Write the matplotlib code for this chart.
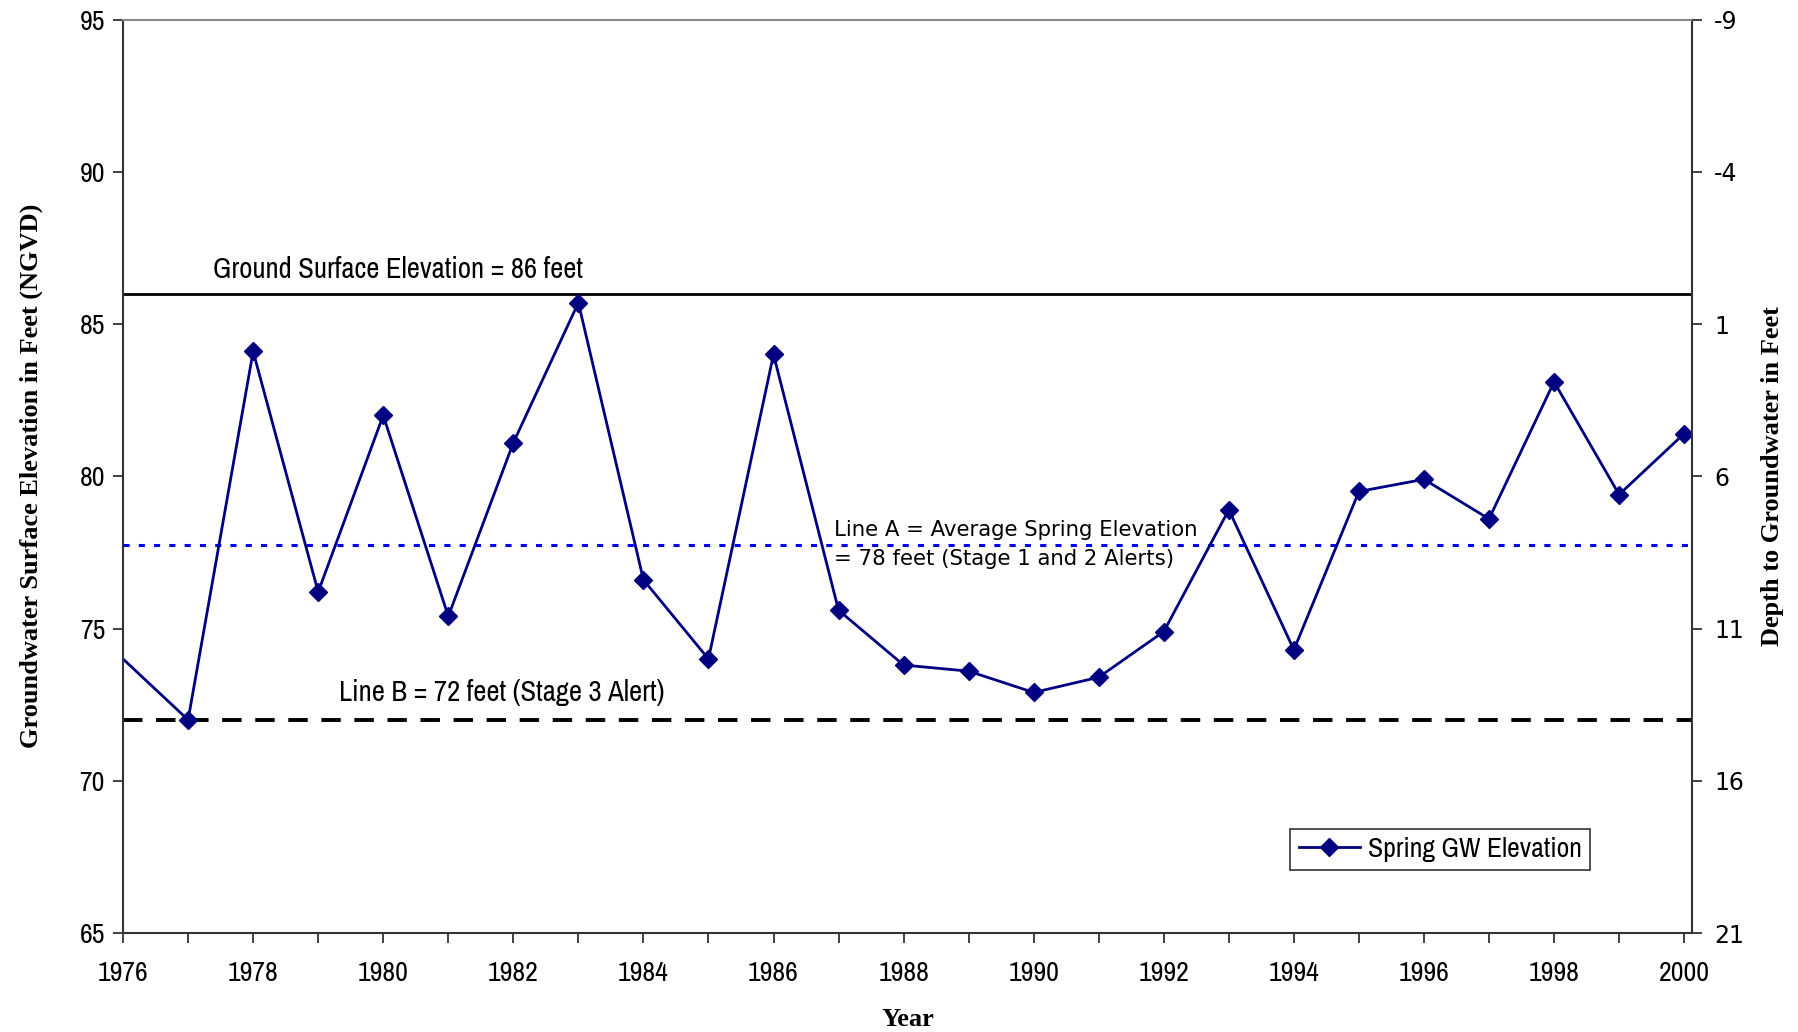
import matplotlib
matplotlib.use("Agg")
import matplotlib.pyplot as plt
from matplotlib.ticker import MultipleLocator
from matplotlib.lines import Line2D

plt.rcParams["axes.unicode_minus"] = False

years = list(range(1976, 2001))
elevation = [74.0, 72.0, 84.1, 76.2, 82.0, 75.4, 81.1, 85.7, 76.6, 74.0, 84.0,
             75.6, 73.8, 73.6, 72.9, 73.4, 74.9, 78.9, 74.3, 79.5, 79.9, 78.6,
             83.1, 79.4, 81.4]
ground_surface = 86
line_a = 77.75
line_b = 72
depth_ticks = [-9, -4, 1, 6, 11, 16, 21]

narrow = ["Archivo Narrow", "DejaVu Sans"]
serif_bold = dict(family=["Liberation Serif", "DejaVu Serif"], weight="bold", size=19)

fig = plt.figure(figsize=(17.99, 10.32), dpi=100)
ax = fig.add_axes([0.0684, 0.0959, 0.8721, 0.8852])

ax.axhline(ground_surface, color="black", lw=2)
ax.axhline(line_a, color="#0000FF", lw=2.2, ls=(0, (2, 3)))
ax.axhline(line_b, color="black", lw=2.8, ls=(0, (5, 3.5)))

# first year has no marker, the line just enters from the axis edge
ax.plot(years, elevation, color="#000080", lw=2, marker="D", ms=9,
        markevery=list(range(1, len(years))))

ax.set_xlim(1976, 2000.12)
ax.set_ylim(65, 95)
ax.xaxis.set_major_locator(MultipleLocator(2))
ax.xaxis.set_minor_locator(MultipleLocator(1))
ax.yaxis.set_major_locator(MultipleLocator(5))
ax.tick_params(axis="both", which="both", direction="out", length=7, width=1.3,
               color="#333333")
ax.tick_params(axis="x", pad=13)
ax.tick_params(axis="y", pad=6)
for lab in ax.get_xticklabels() + ax.get_yticklabels():
    lab.set_fontfamily(narrow)
    lab.set_fontsize(20)

for side in ["left", "bottom", "right"]:
    ax.spines[side].set_linewidth(1.5)
    ax.spines[side].set_color("#333333")
ax.spines["top"].set_color("#888888")
ax.spines["top"].set_linewidth(1.5)

# depth below ground surface on the right
ax2 = ax.twinx()
ax2.set_ylim(ground_surface - 65, ground_surface - 95)
ax2.set_yticks(depth_ticks)
ax2.tick_params(axis="y", direction="out", length=7, width=1.3, color="#333333",
                labelsize=17, pad=9)
for lab in ax2.get_yticklabels():
    lab.set_fontfamily("DejaVu Sans")
for s in ax2.spines.values():
    s.set_visible(False)

ax.set_xlabel("Year", fontdict=serif_bold, labelpad=16)
ax.set_ylabel("Groundwater Surface Elevation in Feet (NGVD)", fontdict=serif_bold,
              labelpad=26)
ax2.set_ylabel("Depth to Groundwater in Feet", fontdict=serif_bold, labelpad=12)

ax.text(1977.38, 86.35, "Ground Surface Elevation = 86 feet", fontfamily=narrow,
        fontsize=20.7, va="bottom")
ax.text(1979.32, 72.45, "Line B = 72 feet (Stage 3 Alert)", fontfamily=narrow,
        fontsize=20.7, va="bottom")
ax.text(1986.93, 77.76, "Line A = Average Spring Elevation\n= 78 feet (Stage 1 and 2 Alerts)",
        fontfamily="DejaVu Sans", fontsize=15.3, va="center", linespacing=1.55)

handle = Line2D([], [], color="#000080", lw=2, marker="D", ms=9)
leg = ax.legend([handle], ["Spring GW Elevation"], loc="upper left",
                bbox_to_anchor=(0.744, 0.1143), borderaxespad=0, frameon=True,
                fancybox=False, edgecolor="black", handlelength=2.2,
                handletextpad=0.3, borderpad=0.3,
                prop={"family": narrow, "size": 20})
leg.get_frame().set_linewidth(1.2)

fig.savefig("out.png", dpi=100)
